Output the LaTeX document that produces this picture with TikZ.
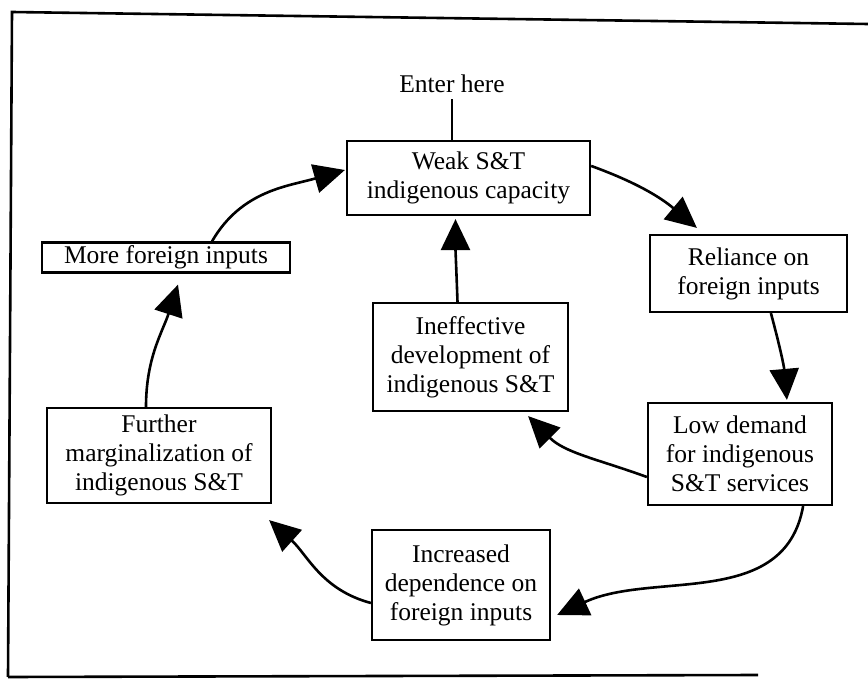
\documentclass[tikz,border=0pt]{standalone}
\usepackage{fontspec}
\setmainfont{Liberation Serif}
\usetikzlibrary{arrows.meta,calc}
\tikzset{
  box/.style={draw, line width=2.2pt, align=center, inner sep=2pt,
    font=\fontsize{25.5}{29}\selectfont},
  lbl/.style={align=center, inner sep=2pt, font=\fontsize{25.5}{29}\selectfont},
  arr/.style={line width=2.6pt, -{Triangle[length=31pt,width=29pt]}},
  frame/.style={line width=2.6pt}
}
\begin{document}
\begin{tikzpicture}[x=1pt,y=-1pt]
\useasboundingbox (0,0) rectangle (868,687);
% frame
\draw[frame] (8,677) -- (12,12) -- (868,24);
\draw[frame] (8,677) -- (758,675);

\node[lbl] (enter) at (452,84) {Enter here};
\node[box, minimum width=243pt, minimum height=74pt] (weak) at (468.5,178) {Weak S\&T\\indigenous capacity};
\node[box, minimum width=197pt, minimum height=77pt] (rel) at (748.5,273.5) {Reliance on\\foreign inputs};
\node[box, minimum width=184pt, minimum height=102pt] (low) at (740,454) {Low demand\\for indigenous\\S\&T services};
\node[box, minimum width=178pt, minimum height=110pt] (inc) at (461,585) {Increased\\dependence on\\foreign inputs};
\node[box, minimum width=224pt, minimum height=95pt] (fur) at (159,455.5) {Further\\marginalization of\\indigenous S\&T};
\node[box, minimum width=248pt, minimum height=30pt] (more) at (166,257.5) {More foreign inputs};
\node[box, minimum width=195pt, minimum height=108pt] (ineff) at (470.5,357) {Ineffective\\development of\\indigenous S\&T};

\draw[line width=1.6pt] ($(enter.south)+(0,4)$) -- (enter.south |- weak.north);

\draw[arr] ($(weak.north east)+(0,26)$) to[out=-20,in=140] ($(rel.north west)+(48,-6)$);
\draw[arr] ($(rel.south west)+(122,0)$) to[out=-75,in=95] ($(low.north west)+(140,-2)$);
\draw[arr] ($(low.south east)+(-30,0)$) to[out=-100,in=25] ($(inc.east)+(6,30)$);
\draw[arr] ($(inc.west)+(0,18)$) to[out=165,in=-42] ($(fur.south east)+(-3,16)$);
\draw[arr] ($(fur.north)+(-13,0)$) to[out=90,in=-108] ($(more.south)+(12,11)$);
\draw[arr] ($(more.north)+(46,0)$) to[out=60,in=196] ($(weak.west)+(-1,-8)$);
\draw[arr] ($(low.west)+(0,23)$) to[out=160,in=-45] ($(ineff.south east)+(-41,4)$);
\draw[arr] ($(ineff.north)+(-13,0)$) to[out=92,in=-90] ($(weak.south)+(-13,3)$);
\end{tikzpicture}
\end{document}
